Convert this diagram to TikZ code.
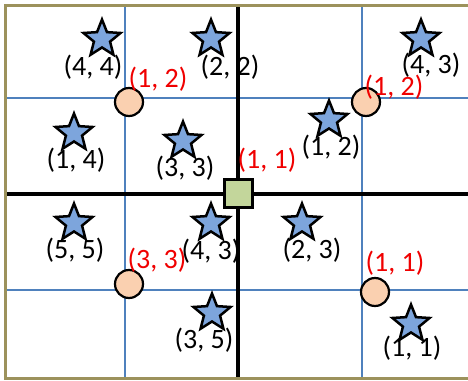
\documentclass[tikz,border=0pt]{standalone}
\usepackage{fontspec}
\setmainfont{Carlito}
\usetikzlibrary{shapes.geometric}
\definecolor{frame}{RGB}{156,146,92}
\definecolor{gridblue}{RGB}{79,129,189}
\definecolor{starblue}{RGB}{125,165,220}
\definecolor{peach}{RGB}{250,208,176}
\definecolor{sqgreen}{RGB}{195,214,155}
\definecolor{lblred}{RGB}{240,0,0}
\begin{document}
\begin{tikzpicture}[x=1pt,y=-1pt,
  starnode/.style={star,star points=5,star point ratio=2.3,minimum size=39pt,inner sep=0pt,draw=black,line width=2.5pt,fill=starblue},
  anchorpt/.style={circle,minimum size=28pt,inner sep=0pt,draw=black,line width=2.2pt,fill=peach},
  centersq/.style={rectangle,minimum size=28pt,inner sep=0pt,draw=black,line width=3pt,fill=sqgreen},
  blk/.style={font=\fontsize{28}{32}\selectfont,text=black,inner sep=0pt},
  red/.style={font=\fontsize{28}{32}\selectfont,text=lblred,inner sep=0pt},
  gridline/.style={draw=gridblue,line width=1.5pt},
  axis/.style={draw=black,line width=4pt}]
\useasboundingbox (0,0) rectangle (468,380);
\fill[white] (0,0) rectangle (468,380);
% grid
\coordinate (gT1) at (125,6); \coordinate (gB1) at (125,378);
\coordinate (gT2) at (362,6); \coordinate (gB2) at (362,378);
\coordinate (gL1) at (6,98); \coordinate (gR1) at (470,98);
\coordinate (gL2) at (6,290); \coordinate (gR2) at (470,290);
\draw[gridline] (gT1) -- (gB1);
\draw[gridline] (gT2) -- (gB2);
\draw[gridline] (gL1) -- (gR1);
\draw[gridline] (gL2) -- (gR2);
% axes
\coordinate (aT) at (238,6); \coordinate (aB) at (238,378);
\coordinate (aL) at (6,194); \coordinate (aR) at (470,194);
\draw[axis] (aT) -- (aB);
\draw[axis] (aL) -- (aR);
% frame
\draw[frame,line width=3pt] (5.5,5.5) rectangle (475,378);
% center
\node[centersq] (c) at (238,193) {};
\node[red] (lc) at (267,160) {(1, 1)};
% anchor points
\node[anchorpt] (p1) at (129,102) {};
\node[red] (lp1) at (158,79) {(1, 2)};
\node[anchorpt] (p2) at (366,102) {};
\node[red] (lp2) at (394,87) {(1, 2)};
\node[anchorpt] (p3) at (129,284) {};
\node[red] (lp3) at (157,260) {(3, 3)};
\node[anchorpt] (p4) at (375,292) {};
\node[red] (lp4) at (395,263) {(1, 1)};
% stars
\node[starnode] (s1) at (102,39) {};  \node[blk] (t1) at (93,67) {(4, 4)};
\node[starnode] (s2) at (211,39) {};  \node[blk] (t2) at (230,67) {(2, 2)};
\node[starnode] (s3) at (421,39) {};  \node[blk] (t3) at (431,65) {(4, 3)};
\node[starnode] (s4) at (74,133) {};  \node[blk] (t4) at (76,160) {(1, 4)};
\node[starnode] (s5) at (183,141) {}; \node[blk] (t5) at (185,168) {(3, 3)};
\node[starnode] (s6) at (329,120) {}; \node[blk] (t6) at (331,147) {(1, 2)};
\node[starnode] (s7) at (74,223) {};  \node[blk] (t7) at (75,250) {(5, 5)};
\node[starnode] (s8) at (211,223) {}; \node[blk] (t8) at (211,251) {(4, 3)};
\node[starnode] (s9) at (212,313) {}; \node[blk] (t9) at (204,340) {(3, 5)};
\node[starnode] (s10) at (302,223) {}; \node[blk] (t10) at (312,250) {(2, 3)};
\node[starnode] (s11) at (411,324) {}; \node[blk] (t11) at (412,348) {(1, 1)};
\end{tikzpicture}
\end{document}
